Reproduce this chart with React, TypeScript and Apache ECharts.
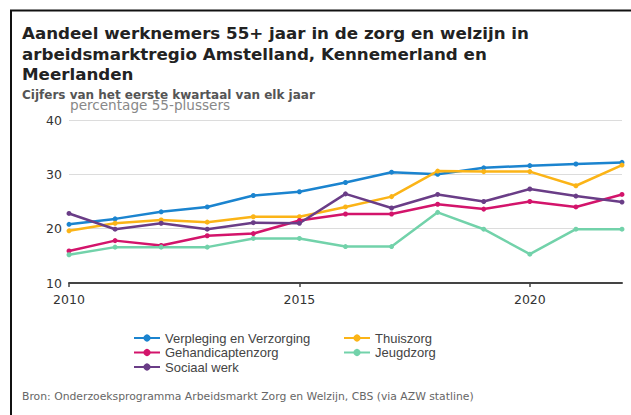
import React, { useEffect, useRef } from "react";
import * as echarts from "echarts";

const years = ["2010","2011","2012","2013","2014","2015","2016","2017","2018","2019","2020","2021","2022"];
const verpleging = [20.8, 21.8, 23.1, 24.0, 26.1, 26.8, 28.5, 30.4, 30.0, 31.2, 31.6, 31.9, 32.2];
const thuiszorg = [19.6, 21.0, 21.6, 21.2, 22.2, 22.2, 24.0, 25.9, 30.6, 30.5, 30.5, 27.9, 31.7];
const gehandicapten = [15.9, 17.8, 16.9, 18.7, 19.1, 21.5, 22.7, 22.7, 24.5, 23.6, 25.0, 24.0, 26.3];
const jeugdzorg = [15.2, 16.6, 16.6, 16.6, 18.2, 18.2, 16.7, 16.7, 23.0, 19.9, 15.3, 19.9, 19.9];
const sociaalWerk = [22.8, 19.9, 21.0, 19.9, 21.1, 21.0, 26.4, 23.8, 26.3, 25.0, 27.3, 26.0, 24.9];
const yTicks = { min: 10, max: 40, interval: 10 };

const seriesDefs = [
  { name: "Verpleging en Verzorging", data: verpleging, color: "#1b84cf" },
  { name: "Thuiszorg", data: thuiszorg, color: "#fbb417" },
  { name: "Gehandicaptenzorg", data: gehandicapten, color: "#d3146b" },
  { name: "Jeugdzorg", data: jeugdzorg, color: "#72d2aa" },
  { name: "Sociaal werk", data: sociaalWerk, color: "#6a3d87" },
];

export default function App() {
  const ref = useRef<HTMLDivElement>(null);
  useEffect(() => {
    if (!ref.current) return;
    const chart = echarts.init(ref.current, null, { renderer: "svg" });
    const legendText = { fontFamily: "Liberation Sans", fontSize: 13, color: "#444", lineHeight: 14 };
    chart.setOption({
      animation: false,
      backgroundColor: "#fff",
      grid: { left: 69, right: 9, top: 120, bottom: 132 },
      xAxis: {
        type: "category",
        data: years,
        boundaryGap: false,
        axisLine: { lineStyle: { color: "#444", width: 2 } },
        axisTick: { show: true, interval: 4, length: 4, lineStyle: { color: "#444", width: 1.5 } },
        axisLabel: { interval: 4, margin: 10, fontFamily: "DejaVu Sans", fontSize: 12.5, color: "#333" },
        splitLine: { show: false },
      },
      yAxis: {
        type: "value",
        min: yTicks.min,
        max: yTicks.max,
        interval: yTicks.interval,
        axisLine: { show: false },
        axisTick: { show: false },
        axisLabel: { margin: 7, fontFamily: "DejaVu Sans", fontSize: 12.5, color: "#333" },
        splitLine: { lineStyle: { color: "#dcdcdc", width: 1 } },
      },
      legend: [
        {
          data: ["Verpleging en Verzorging", "Gehandicaptenzorg", "Sociaal werk"],
          orient: "vertical",
          left: 133,
          top: 331,
          itemWidth: 26,
          itemHeight: 9,
          itemGap: 0.5,
          textStyle: legendText,
          padding: 0,
        },
        {
          data: ["Thuiszorg", "Jeugdzorg"],
          orient: "vertical",
          left: 343,
          top: 331,
          itemWidth: 26,
          itemHeight: 9,
          itemGap: 0.5,
          textStyle: legendText,
          padding: 0,
        },
      ],
      series: seriesDefs.map((s) => ({
        name: s.name,
        type: "line",
        data: s.data,
        color: s.color,
        symbol: "circle",
        symbolSize: 5,
        lineStyle: { width: 2.5, color: s.color },
        itemStyle: { color: s.color },
      })),
      graphic: [
        { type: "line", shape: { x1: 10, y1: 10.5, x2: 631, y2: 10.5 }, style: { stroke: "#111", lineWidth: 2 } },
        { type: "line", shape: { x1: 11, y1: 10, x2: 11, y2: 415 }, style: { stroke: "#111", lineWidth: 2 } },
        {
          type: "text",
          left: 22,
          top: 23,
          style: {
            text: "Aandeel werknemers 55+ jaar in de zorg en welzijn in\narbeidsmarktregio Amstelland, Kennemerland en\nMeerlanden",
            fontFamily: "DejaVu Sans",
            fontWeight: "bold",
            fontSize: 16.7,
            lineHeight: 20.5,
            fill: "#222",
          },
        },
        {
          type: "text",
          left: 22,
          top: 89,
          style: {
            text: "Cijfers van het eerste kwartaal van elk jaar",
            fontFamily: "DejaVu Sans",
            fontWeight: "bold",
            fontSize: 12,
            fill: "#555",
          },
        },
        {
          type: "text",
          left: 70,
          top: 98,
          style: {
            text: "percentage 55-plussers",
            fontFamily: "DejaVu Sans",
            fontSize: 13.6,
            fill: "#888",
          },
        },
        {
          type: "text",
          left: 22,
          top: 391,
          style: {
            text: "Bron: Onderzoeksprogramma Arbeidsmarkt Zorg en Welzijn, CBS (via AZW statline)",
            fontFamily: "DejaVu Sans",
            fontSize: 10.8,
            fill: "#666",
          },
        },
      ],
    });
    return () => chart.dispose();
  }, []);
  return (
    <div
      ref={ref}
      style={{ position: "fixed", left: 0, top: 0, width: 631, height: 415 }}
    />
  );
}
